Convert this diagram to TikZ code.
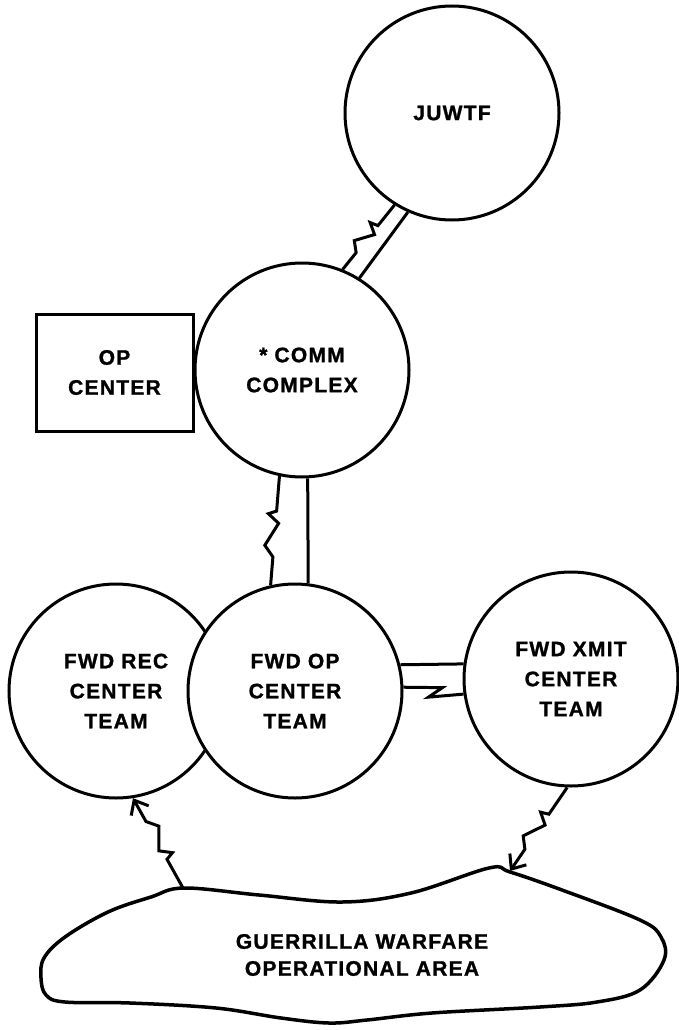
\documentclass[tikz,border=0pt]{standalone}
\usepackage{fontspec}
\newfontfamily\lblfont{Liberation Sans}[LetterSpace=6,FakeBold=1.2]
\usetikzlibrary{calc,arrows.meta}

\begin{document}
\begin{tikzpicture}[x=1pt,y=-1pt,line width=3pt,
    every node/.style={font=\lblfont\bfseries\fontsize{21}{30}\selectfont,align=center,inner sep=0pt},
    site/.style={draw,circle,fill=white,minimum size=214pt},
    tip/.style={-{Straight Barb[length=12pt,width=20pt]}},
    radio/.style={to path={-- ($(\tikztostart)!0.32!(\tikztotarget)$)
        -- ($(\tikztostart)!0.35!(\tikztotarget)!-8pt!90:(\tikztotarget)$)
        -- ($(\tikztostart)!0.43!(\tikztotarget)!3pt!90:(\tikztotarget)$)
        -- ($(\tikztostart)!0.64!(\tikztotarget)!-9pt!90:(\tikztotarget)$)
        -- ($(\tikztostart)!0.74!(\tikztotarget)$) -- (\tikztotarget)}},
    radioone/.style={to path={-- ($(\tikztostart)!0.64!(\tikztotarget)!4pt!90:(\tikztotarget)$)
        -- ($(\tikztostart)!0.43!(\tikztotarget)!-7pt!90:(\tikztotarget)$) -- (\tikztotarget)}}]
    \useasboundingbox (0,0) rectangle (678,1030);

    \node[site] (juwtf) at (452,113) {JUWTF};
    \node[site] (comm) at (302,370) {* COMM\\COMPLEX};
    \node[draw,minimum width=157pt,minimum height=117pt] (opcenter) at (114.5,372.5) {OP\\CENTER};
    \node[site] (fwdrec) at (116,691) {FWD REC\\CENTER\\TEAM};
    \node[site] (fwdop) at (295,691) {FWD OP\\CENTER\\TEAM};
    \node[site] (fwdxmit) at (571,679) {FWD XMIT\\CENTER\\TEAM};

    \draw[line width=3.5pt] plot[smooth cycle,tension=0.6] coordinates {
        (184,888) (259,895) (342,902) (411,893) (489,868) (510,872) (562,890)
        (640,920) (661,937) (664,960) (640,990) (597,1002) (540,1007) (432,1013)
        (367,1020) (329,1023) (281,1018) (216,1008) (130,1003) (65,1002) (46,995)
        (41,978) (44,958) (65,937) (108,912) (151,897)};
    \node[font=\lblfont\bfseries\fontsize{21}{27}\selectfont] (gwarea) at (362,955)
        {GUERRILLA WARFARE\\OPERATIONAL AREA};
    \coordinate (recin) at (183,888);
    \coordinate (xmitout) at (510,871);

    \draw (juwtf.238) to[radio] (comm.68);
    \draw (juwtf.246) -- (comm.58);
    \draw (comm.258) to[radio] (fwdop.103);
    \draw (comm.273) -- (fwdop.83);
    \draw (fwdop.14) -- (fwdxmit.172);
    \draw (fwdop.2) to[radioone] (fwdxmit.188);
    \draw[tip] (recin) to[radio] (fwdrec.279);
    \draw[tip] (fwdxmit.268) to[radio] (xmitout);
\end{tikzpicture}
\end{document}
